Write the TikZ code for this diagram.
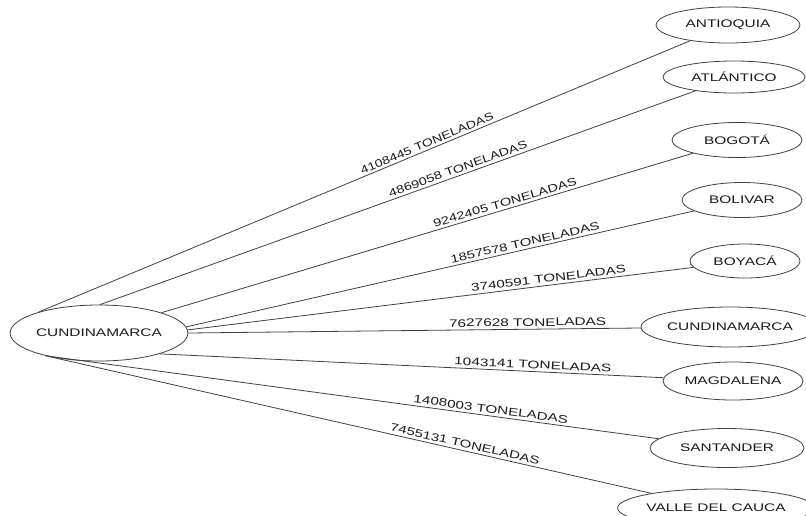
\documentclass[tikz,border=0pt]{standalone}
\usepackage{fontspec}
\usepackage{graphicx}
\setmainfont{Liberation Sans}[FakeStretch=1.4]
\usetikzlibrary{shapes.geometric}
\newcommand{\tonel}[2]{\scalebox{#1}[1]{#2 TONELADAS}}

\begin{document}
\begin{tikzpicture}[x=1pt, y=-1pt,
	depto/.style={draw=black!75, line width=0.8pt, ellipse, inner sep=0pt, font=\fontsize{11}{13}\selectfont, text=black!90},
	envio/.style={draw=black!75, line width=0.8pt},
	carga/.style={sloped, above, inner sep=2.5pt, font=\fontsize{11}{13}\selectfont, text=black!90}]
	\useasboundingbox (0,0) rectangle (806,515);

	% origen
	\node[depto, minimum width=174pt, minimum height=56pt] (src) at (99,333) {CUNDINAMARCA};

	% destinos
	\node[depto, minimum width=144pt, minimum height=36pt] (antioquia) at (728,25) {ANTIOQUIA};
	\node[depto, minimum width=142pt, minimum height=32pt] (atlantico) at (734,77) {ATLÁNTICO};
	\node[depto, minimum width=130pt, minimum height=35pt] (bogota) at (737,140) {BOGOTÁ};
	\node[depto, minimum width=120pt, minimum height=35pt] (bolivar) at (742,200) {BOLIVAR};
	\node[depto, minimum width=110pt, minimum height=34pt] (boyaca) at (745,261) {BOYACÁ};
	\node[depto, minimum width=156pt, minimum height=40pt] (cundi) at (730,327) {CUNDINAMARCA};
	\node[depto, minimum width=140pt, minimum height=38pt] (magdalena) at (733,381) {MAGDALENA};
	\node[depto, minimum width=154pt, minimum height=39pt] (santander) at (727,448) {SANTANDER};
	\node[depto, minimum width=196pt, minimum height=38pt] (valle) at (716,508) {VALLE DEL CAUCA};

	\draw[envio] (src.161) -- (antioquia) node[carga, pos=0.60] {\tonel{0.91}{4108445}};
	\draw[envio] (src.88) -- (atlantico) node[carga, pos=0.605] {\tonel{0.93}{4869058}};
	\draw[envio] (src.18) -- (bogota) node[carga, pos=0.65] {\tonel{0.95}{9242405}};
	\draw[envio] (src.4) -- (bolivar) node[carga, pos=0.67] {\tonel{0.97}{1857578}};
	\draw[envio] (src.2) -- (boyaca) node[carga, pos=0.715] {\tonel{0.99}{3740591}};
	\draw[envio] (src.0) -- (cundi) node[carga, pos=0.75] {\tonel{1}{7627628}};
	\draw[envio] (src.341) -- (magdalena) node[carga, pos=0.74] {\tonel{1}{1043141}};
	\draw[envio] (src.203) -- (santander) node[carga, pos=0.725] {\tonel{0.99}{1408003}};
	\draw[envio] (src.203) -- (valle) node[carga, pos=0.69] {\tonel{0.97}{7455131}};
\end{tikzpicture}
\end{document}
